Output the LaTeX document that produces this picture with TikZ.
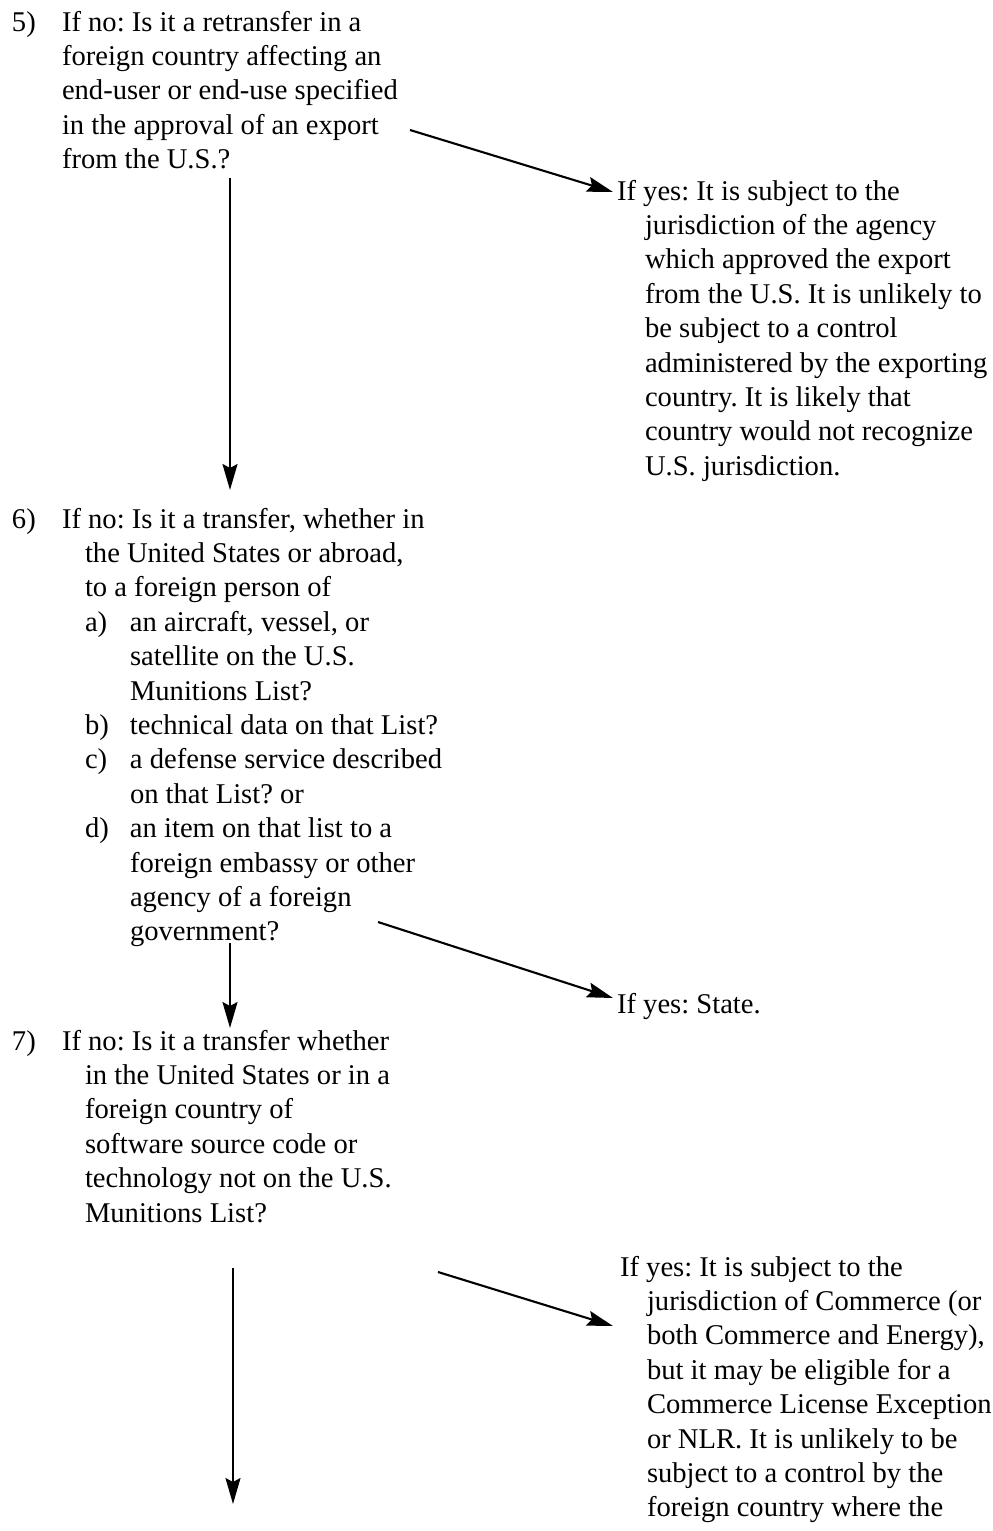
\documentclass[tikz,border=0pt]{standalone}
\usepackage{fontspec}
\setmainfont{Liberation Serif}
\usetikzlibrary{arrows.meta}
\frenchspacing
\newcommand{\blk}[1]{\begin{tabular}[t]{@{}l@{}}#1\end{tabular}}
\newcommand{\ind}{\hspace*{23pt}}
\newcommand{\itm}[1]{\hspace*{23pt}\makebox[45pt][l]{#1}}
\begin{document}
\begin{tikzpicture}[x=1pt,y=-1pt,
  txt/.style={anchor=base west,inner sep=0pt,outer sep=0pt,font=\fontsize{28.6}{34.4}\selectfont},
  arr/.style={line width=2.1pt,-{Stealth[length=26pt,width=15pt,inset=4pt]}}]
\useasboundingbox (0,0) rectangle (993,1531);
% block 5
\node[txt] (n5) at (12,31) {5)};
\node[txt] (q5) at (62,31) {\blk{If no: Is it a retransfer in a\\foreign country affecting an\\end-user or end-use specified\\in the approval of an export\\from the U.S.?}};
\node[txt] (y5) at (617,200) {\blk{If yes: It is subject to the\\\hspace*{28pt}jurisdiction of the agency\\\hspace*{28pt}which approved the export\\\hspace*{28pt}from the U.S. It is unlikely to\\\hspace*{28pt}be subject to a control\\\hspace*{28pt}administered by the exporting\\\hspace*{28pt}country. It is likely that\\\hspace*{28pt}country would not recognize\\\hspace*{28pt}U.S. jurisdiction.}};
% block 6
\node[txt] (n6) at (12,528) {6)};
\node[txt] (q6) at (62,528) {\blk{If no: Is it a transfer, whether in\\\ind the United States or abroad,\\\ind to a foreign person of\\\itm{a)}an aircraft, vessel, or\\\itm{}satellite on the U.S.\\\itm{}Munitions List?\\\itm{b)}technical data on that List?\\\itm{c)}a defense service described\\\itm{}on that List? or\\\itm{d)}an item on that list to a\\\itm{}foreign embassy or other\\\itm{}agency of a foreign\\\itm{}government?}};
\node[txt] (y6) at (617,1013) {If yes: State.};
% block 7
\node[txt] (n7) at (12,1050) {7)};
\node[txt] (q7) at (62,1050) {\blk{If no: Is it a transfer whether\\\ind in the United States or in a\\\ind foreign country of\\\ind software source code or\\\ind technology not on the U.S.\\\ind Munitions List?}};
\node[txt] (y7) at (620,1276) {\blk{If yes: It is subject to the\\\hspace*{27pt}jurisdiction of Commerce (or\\\hspace*{27pt}both Commerce and Energy),\\\hspace*{27pt}but it may be eligible for a\\\hspace*{27pt}Commerce License Exception\\\hspace*{27pt}or NLR. It is unlikely to be\\\hspace*{27pt}subject to a control by the\\\hspace*{27pt}foreign country where the}};
% connector endpoints
\coordinate (d5s) at (410,130); \coordinate (d5e) at (613,192);
\coordinate (v5s) at (230,178); \coordinate (v5e) at (230,490);
\coordinate (d6s) at (378,922); \coordinate (d6e) at (613,998);
\coordinate (v6s) at (230,943); \coordinate (v6e) at (230,1028);
\coordinate (d7s) at (438,1272); \coordinate (d7e) at (613,1326);
\coordinate (v7s) at (233,1268); \coordinate (v7e) at (233,1504);
\draw[arr] (d5s) -- (d5e);
\draw[arr] (v5s) -- (v5e);
\draw[arr] (d6s) -- (d6e);
\draw[arr] (v6s) -- (v6e);
\draw[arr] (d7s) -- (d7e);
\draw[arr] (v7s) -- (v7e);
\end{tikzpicture}
\end{document}
